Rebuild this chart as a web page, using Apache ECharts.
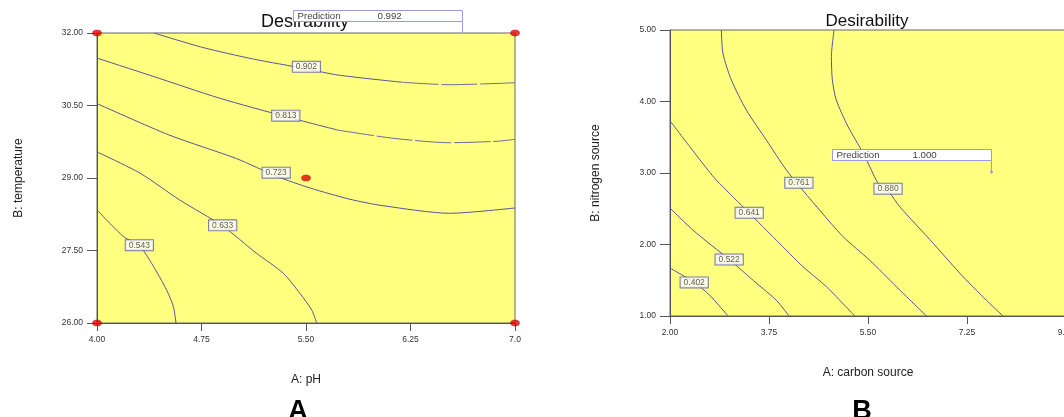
<!DOCTYPE html>
<html>
<head>
<meta charset="utf-8">
<script src="https://cdn.jsdelivr.net/npm/echarts@6/dist/echarts.min.js"></script>
<style>
html, body { margin: 0; padding: 0; background: #fff; }
#chart { width: 1064px; height: 417px; }
</style>
</head>
<body>
<div id="chart"></div>
<script>
// tick labels
const phTicks = ['4.00', '4.75', '5.50', '6.25', '7.0']
const tempTicks = ['26.00', '27.50', '29.00', '30.50', '32.00']
const carbonTicks = ['2.00', '3.75', '5.50', '7.25', '9.00']
const nitrogenTicks = ['1.00', '2.00', '3.00', '4.00', '5.00']

// panel A contours (pH, temperature); the two upper ones go broken on the right
const lineA902 = [[4.408, 32.0], [4.76, 31.70], [5.124, 31.46], [5.50, 31.26], [5.73, 31.13], [6.192, 30.98]]
const lineA902Right = [[6.192, 30.98], [6.531, 30.93], [7.0, 30.97]]
const lineA813 = [[4.0, 31.48], [4.396, 31.11], [4.881, 30.65], [5.355, 30.27], [5.73, 29.99]]
const lineA813Right = [[5.73, 29.99], [6.131, 29.82], [6.531, 29.73], [6.871, 29.76], [7.0, 29.80]]
const lineA723 = [[4.0, 30.54], [4.517, 29.89], [5.002, 29.40], [5.286, 29.04], [5.532, 28.79], [5.816, 28.56], [6.046, 28.43], [6.531, 28.27], [7.0, 28.38]]
const lineA633 = [[4.0, 29.54], [4.309, 29.10], [4.596, 28.54], [4.90, 28.01], [5.146, 27.44], [5.337, 27.03], [5.457, 26.61], [5.541, 26.27], [5.577, 26.0]]
const lineA543 = [[4.0, 28.34], [4.189, 27.79], [4.304, 27.60], [4.393, 27.23], [4.50, 26.68], [4.548, 26.34], [4.567, 26.0]]
const labelsA = [[5.503, 31.30, '0.902'], [5.355, 30.29, '0.813'], [5.286, 29.11, '0.723'], [4.902, 28.02, '0.633'], [4.304, 27.61, '0.543']]
const designA = [[4, 32], [7, 32], [4, 26], [7, 26], [5.5, 29]]
const predictionA = [6.62, 32, '0.992']

// panel B contours (carbon source, nitrogen source)
const lineB880 = [[4.90, 5.0], [4.853, 4.63], [4.87, 4.30], [4.94, 4.02], [5.147, 3.65], [5.412, 3.28], [5.56, 3.04], [5.677, 2.86], [5.884, 2.72], [6.059, 2.53], [6.649, 2.02], [7.121, 1.60], [7.593, 1.22], [7.887, 1.0]]
const lineB761 = [[2.908, 5.0], [2.937, 4.67], [3.085, 4.30], [3.35, 3.88], [3.704, 3.46], [4.058, 3.04], [4.293, 2.81], [4.646, 2.48], [5.059, 2.11], [5.53, 1.78], [6.002, 1.41], [6.532, 1.0]]
const lineB641 = [[2.0, 3.73], [2.348, 3.37], [2.672, 3.04], [2.82, 2.90], [3.40, 2.44], [3.88, 2.06], [4.35, 1.69], [4.765, 1.41], [5.265, 1.0]]
const lineB522 = [[2.0, 2.51], [2.407, 2.20], [3.046, 1.79], [3.527, 1.46], [3.88, 1.22], [4.104, 1.0]]
const lineB402 = [[2.0, 1.67], [2.428, 1.47], [2.702, 1.29], [3.025, 1.0]]
const labelsB = [[5.854, 2.78, '0.880'], [4.278, 2.863, '0.761'], [3.40, 2.443, '0.641'], [3.046, 1.79, '0.522'], [2.428, 1.47, '0.402']]
const predictionB = [7.67, 3.02, '1.000']

// axes start at 0 so the ticks line up with min
const offA = [4, 26]
const offB = [2, 1]

const FONT = "'Liberation Sans', Arial, sans-serif"
const LINE = '#55559a'
const FLAG = '#9a9ae0'

const chart = echarts.init(document.getElementById('chart'))

function shift (pts, off) {
  return pts.map(p => [p[0] - off[0], p[1] - off[1], p[2]])
}

function contour (pts, idx, off, dashed) {
  return {
    type: 'line',
    xAxisIndex: idx,
    yAxisIndex: idx,
    data: shift(pts, off),
    symbol: 'none',
    smooth: 0.25,
    silent: true,
    z: 3,
    lineStyle: { color: dashed ? '#6a6a9e' : LINE, width: 1, type: dashed ? [36, 3] : 'solid' }
  }
}

function contourLabels (labels, idx, off) {
  return {
    type: 'scatter',
    xAxisIndex: idx,
    yAxisIndex: idx,
    data: shift(labels, off),
    symbolSize: 1,
    itemStyle: { color: 'rgba(0,0,0,0)' },
    silent: true,
    z: 5,
    label: {
      show: true,
      position: 'inside',
      formatter: p => p.data[2],
      fontSize: 8.5,
      fontFamily: FONT,
      color: '#333',
      backgroundColor: '#fff',
      borderColor: '#5c5ca4',
      borderWidth: 1,
      padding: [1, 3, 0, 3]
    }
  }
}

function xAxis (idx, ticks, max, step, name) {
  return {
    gridIndex: idx,
    type: 'value',
    min: 0,
    max: max,
    interval: step,
    name: name,
    nameLocation: 'middle',
    nameGap: 51,
    nameTextStyle: { fontSize: 12, color: '#222', fontFamily: FONT },
    axisLine: { show: true, lineStyle: { color: '#555' } },
    axisTick: { show: true, length: 8, lineStyle: { color: '#555' } },
    axisLabel: { formatter: v => ticks[Math.round(v / step)], fontSize: 8.5, color: '#333', margin: 12, fontFamily: FONT },
    splitLine: { show: false }
  }
}

function yAxis (idx, ticks, max, step, name, gap) {
  return {
    gridIndex: idx,
    type: 'value',
    min: 0,
    max: max,
    interval: step,
    name: name,
    nameLocation: 'middle',
    nameGap: gap,
    nameTextStyle: { fontSize: 12, color: '#222', fontFamily: FONT },
    axisLine: { show: true, lineStyle: { color: '#555' } },
    axisTick: { show: true, length: 10, lineStyle: { color: '#555' } },
    axisLabel: { formatter: v => ticks[Math.round(v / step)], fontSize: 8.5, color: '#333', margin: 14, fontFamily: FONT },
    splitLine: { show: false }
  }
}

chart.setOption({
  animation: false,
  textStyle: { fontFamily: FONT },
  grid: [
    { left: 97, top: 33, width: 418, height: 290, outerBoundsMode: 'none', containLabel: false, show: true, backgroundColor: '#ffff80', borderColor: '#666', borderWidth: 1 },
    { left: 670, top: 30, width: 396, height: 286, outerBoundsMode: 'none', containLabel: false, show: true, backgroundColor: '#ffff80', borderColor: '#666', borderWidth: 1 }
  ],
  xAxis: [
    xAxis(0, phTicks, 3, 0.75, 'A: pH'),
    xAxis(1, carbonTicks, 7, 1.75, 'A: carbon source')
  ],
  yAxis: [
    yAxis(0, tempTicks, 6, 1.5, 'B: temperature', 72),
    yAxis(1, nitrogenTicks, 4, 1, 'B: nitrogen source', 68)
  ],
  series: [
    contour(lineA902, 0, offA, false),
    contour(lineA902Right, 0, offA, true),
    contour(lineA813, 0, offA, false),
    contour(lineA813Right, 0, offA, true),
    contour(lineA723, 0, offA, false),
    contour(lineA633, 0, offA, false),
    contour(lineA543, 0, offA, false),
    contourLabels(labelsA, 0, offA),
    {
      type: 'scatter',
      xAxisIndex: 0,
      yAxisIndex: 0,
      data: shift(designA, offA),
      symbol: 'circle',
      symbolSize: [9, 6],
      itemStyle: { color: '#e80000', borderColor: '#900', borderWidth: 0.5 },
      clip: false,
      silent: true,
      z: 6
    },
    contour(lineB880, 1, offB, false),
    contour(lineB761, 1, offB, false),
    contour(lineB641, 1, offB, false),
    contour(lineB522, 1, offB, false),
    contour(lineB402, 1, offB, false),
    contourLabels(labelsB, 1, offB)
  ]
})

// prediction flag: box sits 12px above the point, its right edge on the point
function flag (idx, pred, off, w, valX, dot) {
  const p = chart.convertToPixel({ xAxisIndex: idx, yAxisIndex: idx }, [pred[0] - off[0], pred[1] - off[1]])
  const x = Math.round(p[0]) + 0.5
  const y = Math.round(p[1])
  const top = y - 12 - 11 + 0.5
  const els = [
    { type: 'rect', z: 100, shape: { x: x - w, y: top, width: w, height: 11 }, style: { fill: '#fff', stroke: FLAG, lineWidth: 1 } },
    { type: 'line', z: 100, shape: { x1: x, y1: top + 11, x2: x, y2: y }, style: { stroke: FLAG, lineWidth: 1 } },
    { type: 'text', z: 101, x: x - w + 4, y: top + 6, style: { text: 'Prediction', font: '9.7px ' + FONT, fill: '#444', verticalAlign: 'middle' } },
    { type: 'text', z: 101, x: x - w + valX, y: top + 6, style: { text: pred[2], font: '9.7px ' + FONT, fill: '#444', verticalAlign: 'middle' } }
  ]
  if (dot) {
    els.push({ type: 'circle', z: 100, shape: { cx: x, cy: y, r: 1.5 }, style: { fill: FLAG } })
  }
  return els
}

chart.setOption({
  graphic: [
    { type: 'text', z: 50, x: 305, y: 22, style: { text: 'Desirability', font: '18px ' + FONT, fill: '#111', align: 'center', verticalAlign: 'middle' } },
    { type: 'text', z: 50, x: 867, y: 21, style: { text: 'Desirability', font: '17px ' + FONT, fill: '#111', align: 'center', verticalAlign: 'middle' } },
    { type: 'text', z: 50, x: 298, y: 412, style: { text: 'A', font: 'bold 27px ' + FONT, fill: '#000', align: 'center', verticalAlign: 'middle' } },
    { type: 'text', z: 50, x: 862, y: 412, style: { text: 'B', font: 'bold 27px ' + FONT, fill: '#000', align: 'center', verticalAlign: 'middle' } },
    ...flag(0, predictionA, offA, 169, 84, false),
    ...flag(1, predictionB, offB, 159, 80, true)
  ]
})
</script>
</body>
</html>
